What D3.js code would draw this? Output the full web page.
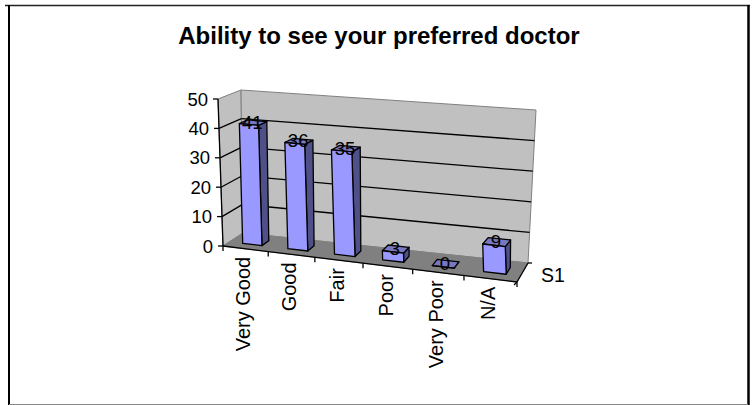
<!DOCTYPE html>
<html>
<head>
<meta charset="utf-8">
<script src="https://d3js.org/d3.v7.min.js"></script>
<style type="text/css">
html, body { margin:0; padding:0; background:#fff; }
svg { display:block; }
text { font-family:'Liberation Sans', Arial, sans-serif; fill:#000; }
</style>
</head>
<body>
<div id="chart"></div>
<script>
var categories = ["Very Good", "Good", "Fair", "Poor", "Very Poor", "N/A"];
var values = [41, 36, 35, 3, 0, 9];
var valueTicks = [0, 10, 20, 30, 40, 50];
var seriesName = "S1";
var title = "Ability to see your preferred doctor";

var width = 755, height = 405;

var svg = d3.select("#chart").append("svg")
  .attr("width", width)
  .attr("height", height);

// corners of the 3d box as seen on the page: front/back, left/right, bottom/top
var box = {
  fbl: [223, 246], fbr: [517, 282], ftl: [218, 99], ftr: [506, 127],
  bbl: [243, 233], bbr: [528, 263], btl: [241, 90], btr: [536, 110]
};

var x = d3.scaleBand().domain(categories).range([0, 1]).paddingInner(0).paddingOuter(0);
var y = d3.scaleLinear().domain([0, 50]).range([0, 1]);

// perspective makes the far categories wider
function warp(u) { return u / (u + 1.1 * (1 - u)); }

function project(u, v, w) {
  var t = warp(u);
  function mix(a, b, k) { return a + (b - a) * k; }
  return [0, 1].map(function(i) {
    var front = mix(mix(box.fbl[i], box.fbr[i], t), mix(box.ftl[i], box.ftr[i], t), v);
    var back = mix(mix(box.bbl[i], box.bbr[i], t), mix(box.btl[i], box.btr[i], t), v);
    return mix(front, back, w);
  });
}

function poly(points, fill, stroke, sw) {
  svg.append("polygon")
    .attr("points", points.map(function(p) { return p.join(","); }).join(" "))
    .attr("fill", fill)
    .attr("stroke", stroke)
    .attr("stroke-width", sw)
    .attr("stroke-linejoin", "round");
}

function seg(a, b, stroke, sw) {
  svg.append("line")
    .attr("x1", a[0]).attr("y1", a[1])
    .attr("x2", b[0]).attr("y2", b[1])
    .attr("stroke", stroke).attr("stroke-width", sw);
}

// chart box, the lines differ because the picture was scaled
seg([5, 5.5], [750, 5.5], "#222", 1.5);
seg([9, 5], [9, 405], "#000", 2);
seg([748.5, 5], [748.5, 405], "#000", 2.5);
seg([9, 404.5], [748, 404.5], "#888", 1);

// walls and floor
poly([project(0,0,0), project(0,1,0), project(0,1,1), project(0,0,1)], "#c0c0c0", "#808080", 1);
poly([project(0,0,1), project(0,1,1), project(1,1,1), project(1,0,1)], "#c0c0c0", "#808080", 1);
poly([project(0,0,0), project(0,0,1), project(1,0,1), project(1,0,0)], "#808080", "#808080", 1);

// gridlines
valueTicks.forEach(function(d) {
  if (d == 0 || d == 50) return;
  seg(project(0, y(d), 0), project(0, y(d), 1), "#000", 1.3);
  seg(project(0, y(d), 1), project(1, y(d), 1), "#000", 1.3);
});

// axes
seg(project(0,0,0), project(0,1,0), "#000", 1.3);
seg(project(0,0,0), project(1,0,0), "#000", 1.3);
seg(project(1,0,0), project(1,0,1), "#000", 1.3);

valueTicks.forEach(function(d) {
  var p = project(0, y(d), 0);
  seg([p[0] - 5, p[1]], p, "#000", 1.3);
  svg.append("text")
    .attr("x", p[0] - 10)
    .attr("y", p[1] + 6.5)
    .attr("text-anchor", "end")
    .style("font-size", "18.5px")
    .text(d);
});

// category ticks and labels
var step = x.step();
d3.range(categories.length + 1).forEach(function(i) {
  var p = project(i * step, 0, 0);
  seg(p, [p[0], p[1] + 5], "#000", 1.3);
});
categories.forEach(function(c) {
  var p = project(x(c) + step / 2, 0, 0);
  svg.append("text")
    .attr("transform", "translate(" + (p[0] + 5) + "," + (p[1] + 8) + ") rotate(-90)")
    .attr("text-anchor", "end")
    .style("font-size", "20px")
    .text(c);
});

// series axis
seg(project(1,0,0), [project(1,0,0)[0] - 3, project(1,0,0)[1] + 3], "#000", 1.3);
seg(project(1,0,1), [project(1,0,1)[0] + 4, project(1,0,1)[1]], "#000", 1.3);
svg.append("text")
  .attr("x", 541).attr("y", 282)
  .style("font-size", "19.5px")
  .text(seriesName);

// bars
var padLeft = 0.3, padRight = 0.27, wFront = 0.32, wBack = 0.68;
categories.forEach(function(c, i) {
  var u0 = x(c) + step * padLeft, u1 = x(c) + step * (1 - padRight);
  var v = y(values[i]);
  poly([project(u1,0,wFront), project(u1,v,wFront), project(u1,v,wBack), project(u1,0,wBack)], "#505088", "#000", 1.3);
  poly([project(u0,v,wFront), project(u1,v,wFront), project(u1,v,wBack), project(u0,v,wBack)], "#7878c0", "#000", 1.3);
  poly([project(u0,0,wFront), project(u1,0,wFront), project(u1,v,wFront), project(u0,v,wFront)], "#9999ff", "#000", 1.3);
});

// value labels sit on top of the bars
categories.forEach(function(c, i) {
  var p = project(x(c) + step / 2, y(values[i]), 0.5);
  svg.append("text")
    .attr("x", p[0])
    .attr("y", p[1] + 6)
    .attr("text-anchor", "middle")
    .style("font-size", "18.5px")
    .text(values[i]);
});

svg.append("text")
  .attr("x", 379).attr("y", 44)
  .attr("text-anchor", "middle")
  .style("font-size", "24px")
  .style("font-weight", "bold")
  .text(title);
</script>
</body>
</html>
